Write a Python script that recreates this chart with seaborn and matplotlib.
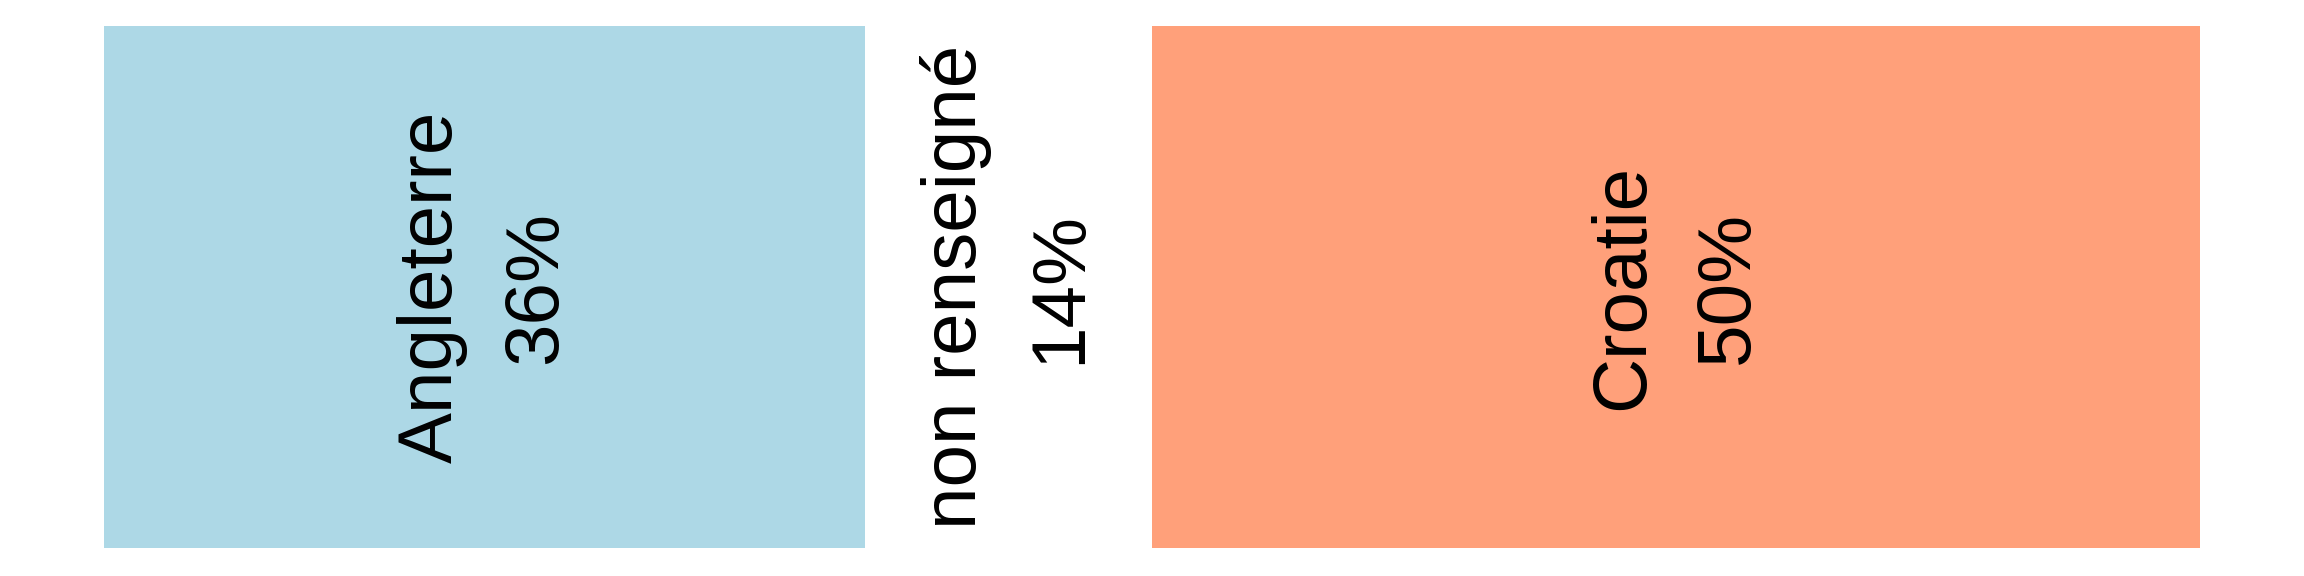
import matplotlib.pyplot as plt
import seaborn as sns
import numpy as np

categories = ["Angleterre", "non renseigné", "Croatie"]
shares = [36.3, 13.7, 50.0]
colors = ["#ADD8E6", "#FFFFFF", "#FFA07A"]

sns.set_theme(style="white")
plt.rcParams["font.family"] = ["Liberation Sans", "DejaVu Sans"]

fig = plt.figure(figsize=(23.04, 5.76), dpi=100)
ax = fig.add_axes([104 / 2304, 28 / 576, 2096 / 2304, 522 / 576])

lefts = np.concatenate([[0], np.cumsum(shares)[:-1]])
for cat, share, left, color in zip(categories, shares, lefts, colors):
    ax.barh(0, share, left=left, height=1, color=color, edgecolor="none")
    # label: category name + rounded percentage, rotated
    ax.text(left + share / 2, 0, f"{cat}\n{round(share)}%", rotation=90,
            ha="center", va="center", fontsize=55, color="black",
            linespacing=1.6)

ax.set_xlim(0, 100)
ax.set_ylim(-0.5, 0.5)
ax.axis("off")

fig.savefig("out.png", dpi=100)
